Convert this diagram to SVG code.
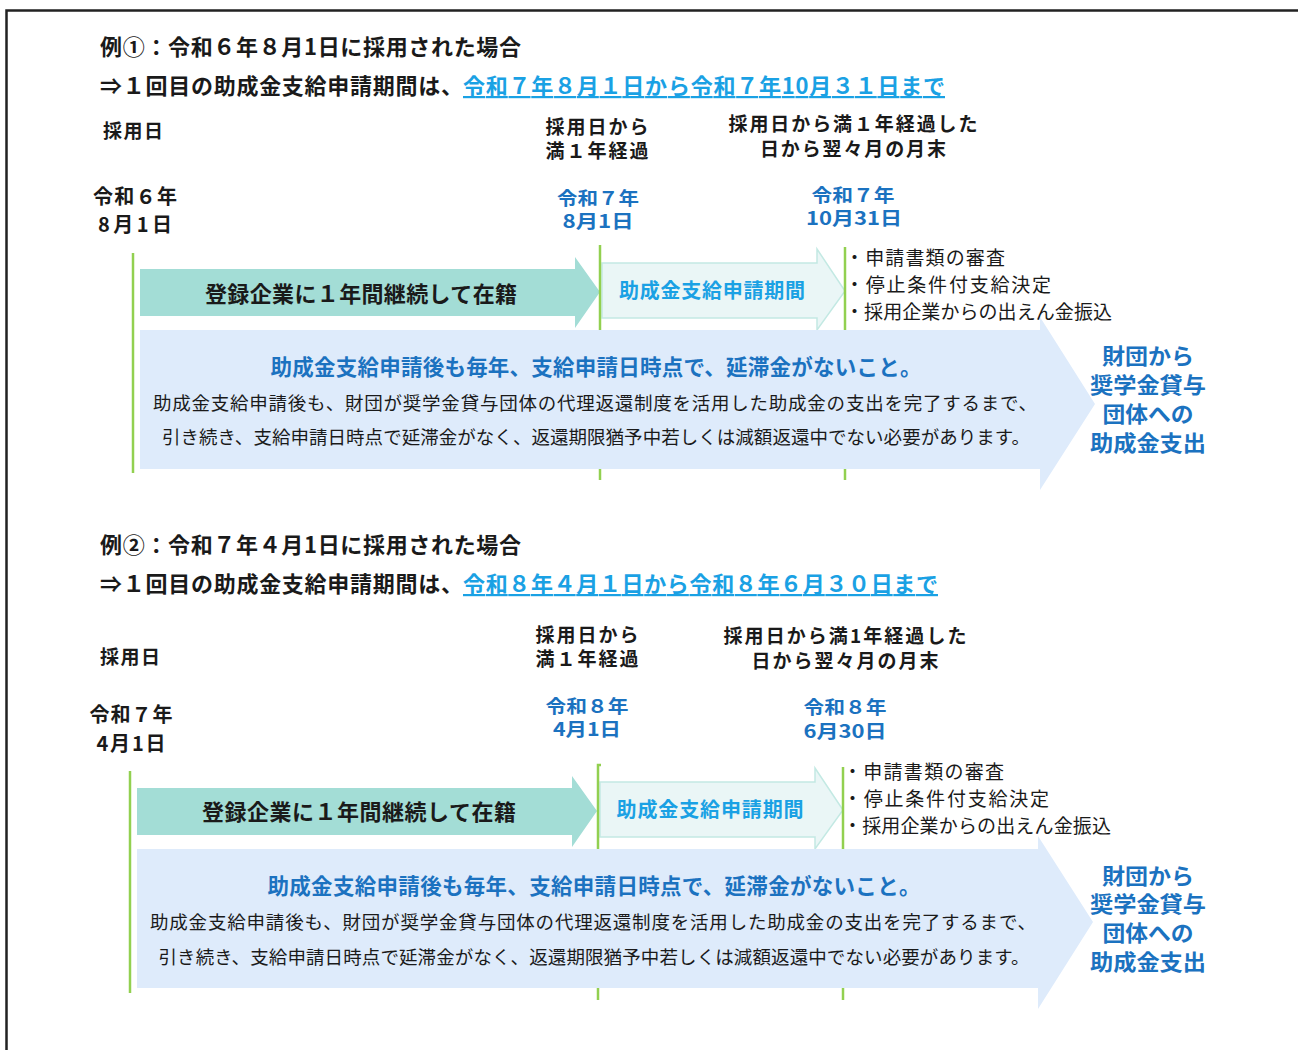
<svg xmlns="http://www.w3.org/2000/svg" width="1298" height="1050" viewBox="0 0 1298 1050">
<style>
text{font-family:"Noto Sans CJK JP","Noto Sans CJK SC",sans-serif;}
.b{font-weight:bold;fill:#1a1a1a;}
.r{font-weight:normal;fill:#1a1a1a;}
.t{font-size:22px;}
.h{font-size:19px;}
.d{font-size:20px;}
.dd{font-size:18.5px;}
.pc{font-size:22px;}
.dk{fill:#1b72c0;}
.lb{fill:#1aa1e4;}
.c{text-anchor:middle;}
.teal{fill:#a3ddd6;}
.light{fill:#eaf6f6;stroke:#c3e9e3;stroke-width:1.5;}
.big{fill:#deebfb;}
.gl{stroke:#92d050;stroke-width:2.5;fill:none;}
</style>
<rect width="1298" height="1050" fill="#ffffff"/>
<path id="frame" d="M6.5,1050 V10.5 H1298" fill="none" stroke="#222" stroke-width="2.5"/>

<!-- Example 1 small arrows -->
<g id="ex1-stay"><path class="teal" d="M140,269 H575 V257 L600,292 L575,328 V316 H140 Z"/></g>
<g id="ex1-period"><path class="light" d="M602,263 H817 V249 L845,291 L817,330 V318 H602 Z"/></g>
<!-- Example 2 small arrows -->
<g id="ex2-stay"><path class="teal" d="M137,788 H572 V776 L597,811 L572,847 V835 H137 Z"/></g>
<g id="ex2-period"><path class="light" d="M600,782 H815 V768 L843,810 L815,849 V837 H600 Z"/></g>

<g id="connectors">
<line class="gl" x1="133" y1="253" x2="133" y2="473"/>
<line class="gl" x1="600" y1="245" x2="600" y2="480"/>
<line class="gl" x1="845" y1="247" x2="845" y2="480"/>
<line class="gl" x1="130" y1="771" x2="130" y2="993"/>
<path class="gl" d="M601,765 H598 V1000"/>
<line class="gl" x1="843" y1="767" x2="843" y2="1000"/>
</g>

<g id="ex1-condition"><path class="big" d="M140,330 H1040 V317 L1095,404 L1040,490 V469 H140 Z"/></g>
<g id="ex2-condition"><path class="big" d="M137,849 H1038 V836 L1093,922 L1038,1009 V988 H137 Z"/></g>

<!-- Example 1 texts -->
<g id="ex1-title">
<text class="b t" x="100" y="55" textLength="421">例①：令和６年８月1日に採用された場合</text>
<text class="b t" x="100" y="94" textLength="363">⇒１回目の助成金支給申請期間は、</text>
<text class="b t lb" x="463" y="94" textLength="482" text-decoration="underline">令和７年８月１日から令和７年10月３１日まで</text>
</g>
<g id="ex1-headers">
<text class="b h" x="103" y="138" textLength="60">採用日</text>
<text class="b h c" x="597" y="134" textLength="103">採用日から</text>
<text class="b h c" x="597" y="158" textLength="103">満１年経過</text>
<text class="b h c" x="853" y="131" textLength="249">採用日から満１年経過した</text>
<text class="b h c" x="853" y="156" textLength="186">日から翌々月の月末</text>
</g>
<g id="ex1-dates">
<text class="b d c" x="135" y="204" textLength="84">令和６年</text>
<text class="b d c" x="135" y="232" textLength="74">8月1日</text>
<text class="b dd c dk" x="598" y="205" textLength="82" lengthAdjust="spacingAndGlyphs">令和７年</text>
<text class="b dd c dk" x="598" y="228" textLength="71" lengthAdjust="spacingAndGlyphs">8月1日</text>
<text class="b dd c dk" x="853" y="202" textLength="83" lengthAdjust="spacingAndGlyphs">令和７年</text>
<text class="b dd c dk" x="854" y="225" textLength="96" lengthAdjust="spacingAndGlyphs">10月31日</text>
</g>
<text class="b c" x="361" y="302" font-size="22" textLength="312">登録企業に１年間継続して在籍</text>
<text class="b c lb" x="712" y="298" font-size="20" textLength="186">助成金支給申請期間</text>
<g id="ex1-steps">
<text class="r" x="845" y="265" font-size="19" textLength="160">・申請書類の審査</text>
<text class="r" x="845" y="292" font-size="19" textLength="206">・停止条件付支給決定</text>
<text class="r" x="845" y="319" font-size="19" textLength="267">・採用企業からの出えん金振込</text>
</g>
<g id="ex1-condition-text">
<text class="b c dk" x="596" y="375" font-size="21.5" textLength="651">助成金支給申請後も毎年、支給申請日時点で、延滞金がないこと。</text>
<text class="r c" x="595" y="410" font-size="18.5" textLength="884">助成金支給申請後も、財団が奨学金貸与団体の代理返還制度を活用した助成金の支出を完了するまで、</text>
<text class="r c" x="596" y="444" font-size="18.5" textLength="868">引き続き、支給申請日時点で延滞金がなく、返還期限猶予中若しくは減額返還中でない必要があります。</text>
</g>
<g id="ex1-payment">
<text class="b c dk pc" x="1148" y="364" textLength="92" lengthAdjust="spacingAndGlyphs">財団から</text>
<text class="b c dk pc" x="1148" y="393" textLength="116" lengthAdjust="spacingAndGlyphs">奨学金貸与</text>
<text class="b c dk pc" x="1148" y="422" textLength="91" lengthAdjust="spacingAndGlyphs">団体への</text>
<text class="b c dk pc" x="1148" y="451" textLength="116" lengthAdjust="spacingAndGlyphs">助成金支出</text>
</g>

<!-- Example 2 texts -->
<g id="ex2-title">
<text class="b t" x="100" y="553" textLength="421">例②：令和７年４月1日に採用された場合</text>
<text class="b t" x="100" y="592" textLength="363">⇒１回目の助成金支給申請期間は、</text>
<text class="b t lb" x="463" y="592" textLength="475" text-decoration="underline">令和８年４月１日から令和８年６月３０日まで</text>
</g>
<g id="ex2-headers">
<text class="b h" x="100" y="664" textLength="60">採用日</text>
<text class="b h c" x="587" y="642" textLength="103">採用日から</text>
<text class="b h c" x="587" y="666" textLength="103">満１年経過</text>
<text class="b h c" x="845" y="643" textLength="243">採用日から満1年経過した</text>
<text class="b h c" x="845" y="668" textLength="187">日から翌々月の月末</text>
</g>
<g id="ex2-dates">
<text class="b d c" x="131" y="722" textLength="83">令和７年</text>
<text class="b d c" x="131" y="751" textLength="69">4月1日</text>
<text class="b dd c dk" x="587" y="713" textLength="83" lengthAdjust="spacingAndGlyphs">令和８年</text>
<text class="b dd c dk" x="587" y="736" textLength="68" lengthAdjust="spacingAndGlyphs">4月1日</text>
<text class="b dd c dk" x="845" y="714" textLength="83" lengthAdjust="spacingAndGlyphs">令和８年</text>
<text class="b dd c dk" x="845" y="738" textLength="83" lengthAdjust="spacingAndGlyphs">6月30日</text>
</g>
<text class="b c" x="359" y="820" font-size="22" textLength="314">登録企業に１年間継続して在籍</text>
<text class="b c lb" x="710" y="817" font-size="20" textLength="187">助成金支給申請期間</text>
<g id="ex2-steps">
<text class="r" x="843" y="779" font-size="19" textLength="161">・申請書類の審査</text>
<text class="r" x="843" y="806" font-size="19" textLength="206">・停止条件付支給決定</text>
<text class="r" x="843" y="833" font-size="19" textLength="268">・採用企業からの出えん金振込</text>
</g>
<g id="ex2-condition-text">
<text class="b c dk" x="594" y="894" font-size="21.5" textLength="653">助成金支給申請後も毎年、支給申請日時点で、延滞金がないこと。</text>
<text class="r c" x="593" y="929" font-size="18.5" textLength="886">助成金支給申請後も、財団が奨学金貸与団体の代理返還制度を活用した助成金の支出を完了するまで、</text>
<text class="r c" x="594" y="964" font-size="18.5" textLength="871">引き続き、支給申請日時点で延滞金がなく、返還期限猶予中若しくは減額返還中でない必要があります。</text>
</g>
<g id="ex2-payment">
<text class="b c dk pc" x="1148" y="884" textLength="92" lengthAdjust="spacingAndGlyphs">財団から</text>
<text class="b c dk pc" x="1148" y="912" textLength="116" lengthAdjust="spacingAndGlyphs">奨学金貸与</text>
<text class="b c dk pc" x="1148" y="941" textLength="91" lengthAdjust="spacingAndGlyphs">団体への</text>
<text class="b c dk pc" x="1148" y="970" textLength="116" lengthAdjust="spacingAndGlyphs">助成金支出</text>
</g>
</svg>
